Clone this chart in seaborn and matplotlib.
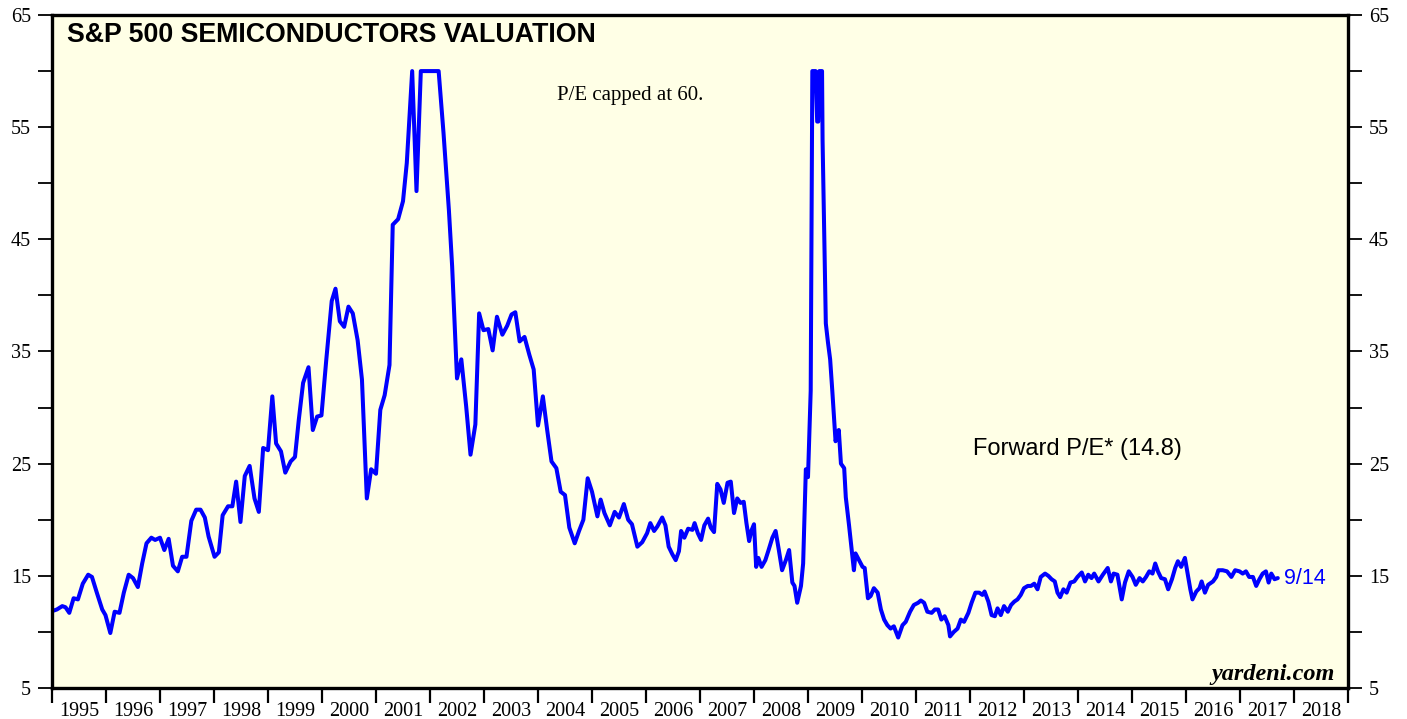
import matplotlib
matplotlib.use("Agg")
import matplotlib.pyplot as plt
import seaborn as sns
import pandas as pd
import numpy as np

# ---- data (decimal year, forward P/E, capped at 60) ----
years = [
    1995.03, 1995.09, 1995.19, 1995.25, 1995.32, 1995.40, 1995.48, 1995.57, 1995.67, 1995.74,
    1995.83, 1995.93, 1995.99, 1996.08, 1996.16, 1996.25, 1996.33, 1996.42, 1996.50, 1996.59,
    1996.67, 1996.75, 1996.84, 1996.91, 1997.00, 1997.08, 1997.16, 1997.24, 1997.33, 1997.41,
    1997.49, 1997.58, 1997.67, 1997.75, 1997.83, 1997.90, 1998.01, 1998.09, 1998.16, 1998.26,
    1998.34, 1998.41, 1998.49, 1998.57, 1998.66, 1998.75, 1998.83, 1998.91, 1999.00, 1999.08,
    1999.15, 1999.24, 1999.32, 1999.42, 1999.50, 1999.57, 1999.65, 1999.75, 1999.83, 1999.91,
    1999.99, 2000.08, 2000.18, 2000.25, 2000.33, 2000.41, 2000.49, 2000.57, 2000.66, 2000.74,
    2000.83, 2000.91, 2001.00, 2001.08, 2001.16, 2001.25, 2001.31, 2001.41, 2001.50, 2001.57,
    2001.67, 2001.75, 2001.83, 2002.16, 2002.25, 2002.35, 2002.41, 2002.50, 2002.58, 2002.67,
    2002.75, 2002.84, 2002.91, 2002.99, 2003.08, 2003.16, 2003.24, 2003.34, 2003.43, 2003.51,
    2003.58, 2003.66, 2003.75, 2003.84, 2003.92, 2004.00, 2004.09, 2004.17, 2004.25, 2004.34,
    2004.42, 2004.50, 2004.58, 2004.68, 2004.76, 2004.84, 2004.92, 2005.00, 2005.10, 2005.16,
    2005.23, 2005.33, 2005.42, 2005.50, 2005.59, 2005.67, 2005.74, 2005.84, 2005.93, 2006.02,
    2006.08, 2006.15, 2006.21, 2006.30, 2006.36, 2006.42, 2006.49, 2006.55, 2006.61, 2006.65,
    2006.71, 2006.78, 2006.86, 2006.90, 2006.96, 2007.02, 2007.08, 2007.15, 2007.20, 2007.26,
    2007.32, 2007.38, 2007.44, 2007.51, 2007.57, 2007.63, 2007.69, 2007.75, 2007.81, 2007.86,
    2007.91, 2007.95, 2008.00, 2008.04, 2008.08, 2008.14, 2008.21, 2008.27, 2008.34, 2008.40,
    2008.46, 2008.52, 2008.59, 2008.65, 2008.71, 2008.75, 2008.80, 2008.87, 2008.91, 2008.96,
    2009.00, 2009.05, 2009.08, 2009.14, 2009.17, 2009.19, 2009.21, 2009.26, 2009.27, 2009.33,
    2009.37, 2009.41, 2009.45, 2009.51, 2009.57, 2009.61, 2009.67, 2009.70, 2009.76, 2009.85,
    2009.88, 2010.01, 2010.05, 2010.11, 2010.16, 2010.22, 2010.29, 2010.35, 2010.41, 2010.47,
    2010.53, 2010.59, 2010.67, 2010.75, 2010.81, 2010.89, 2010.96, 2011.04, 2011.09, 2011.15,
    2011.21, 2011.29, 2011.35, 2011.41, 2011.47, 2011.53, 2011.60, 2011.63, 2011.70, 2011.77,
    2011.83, 2011.89, 2011.97, 2012.03, 2012.10, 2012.17, 2012.23, 2012.27, 2012.34, 2012.40,
    2012.46, 2012.51, 2012.57, 2012.63, 2012.70, 2012.76, 2012.82, 2012.88, 2012.94, 2013.00,
    2013.07, 2013.13, 2013.19, 2013.25, 2013.31, 2013.39, 2013.45, 2013.51, 2013.57, 2013.62,
    2013.67, 2013.73, 2013.79, 2013.86, 2013.93, 2013.99, 2014.07, 2014.13, 2014.19, 2014.25,
    2014.30, 2014.38, 2014.46, 2014.55, 2014.61, 2014.66, 2014.73, 2014.81, 2014.87, 2014.94,
    2015.01, 2015.07, 2015.14, 2015.20, 2015.26, 2015.32, 2015.38, 2015.43, 2015.48, 2015.54,
    2015.61, 2015.67, 2015.74, 2015.80, 2015.85, 2015.91, 2015.98, 2016.03, 2016.08, 2016.12,
    2016.19, 2016.25, 2016.29, 2016.35, 2016.41, 2016.50, 2016.56, 2016.60, 2016.68, 2016.76,
    2016.84, 2016.91, 2016.99, 2017.05, 2017.11, 2017.17, 2017.24, 2017.30, 2017.36, 2017.42,
    2017.48, 2017.53, 2017.58, 2017.64, 2017.70,
]
pe = [
    11.9, 12.0, 12.3, 12.2, 11.7, 13.0, 12.9, 14.3, 15.1, 14.9,
    13.5, 12.0, 11.5, 9.9, 11.8, 11.7, 13.5, 15.1, 14.8, 14.0,
    16.1, 17.9, 18.4, 18.2, 18.4, 17.3, 18.3, 15.9, 15.4, 16.7,
    16.7, 19.9, 20.9, 20.9, 20.2, 18.5, 16.7, 17.1, 20.4, 21.2,
    21.2, 23.4, 19.8, 23.9, 24.8, 21.9, 20.7, 26.4, 26.2, 31.0,
    26.8, 26.1, 24.2, 25.2, 25.6, 28.9, 32.2, 33.6, 28.0, 29.2,
    29.3, 34.3, 39.5, 40.6, 37.7, 37.2, 39.0, 38.4, 36.0, 32.5,
    21.9, 24.5, 24.1, 29.8, 31.1, 33.8, 46.3, 46.8, 48.4, 51.8,
    60.0, 49.3, 60.0, 60.0, 54.5, 47.6, 42.6, 32.6, 34.3, 30.1,
    25.8, 28.5, 38.4, 36.9, 37.0, 35.1, 38.1, 36.5, 37.3, 38.3,
    38.5, 35.9, 36.3, 34.7, 33.4, 28.4, 31.0, 28.0, 25.2, 24.6,
    22.5, 22.2, 19.3, 17.9, 19.0, 20.0, 23.7, 22.5, 20.3, 21.8,
    20.6, 19.5, 20.7, 20.2, 21.4, 20.0, 19.6, 17.6, 18.0, 18.8,
    19.7, 19.0, 19.4, 20.2, 19.5, 17.6, 16.9, 16.4, 17.2, 19.0,
    18.4, 19.2, 19.1, 19.7, 18.8, 18.2, 19.5, 20.1, 19.3, 18.9,
    23.2, 22.7, 21.5, 23.3, 23.4, 20.6, 21.9, 21.5, 21.6, 19.7,
    18.1, 19.0, 19.6, 15.8, 16.6, 15.8, 16.4, 17.3, 18.4, 19.0,
    17.3, 15.5, 16.4, 17.3, 14.4, 14.1, 12.6, 14.1, 16.1, 24.5,
    23.8, 31.5, 60.0, 60.0, 55.5, 55.5, 60.0, 60.0, 53.8, 37.5,
    35.8, 34.3, 31.5, 27.0, 28.0, 25.0, 24.6, 22.0, 19.5, 15.5,
    17.0, 15.8, 15.7, 13.0, 13.2, 13.9, 13.5, 12.0, 11.1, 10.6,
    10.3, 10.5, 9.5, 10.6, 10.9, 11.8, 12.4, 12.6, 12.8, 12.6,
    11.8, 11.7, 12.0, 12.0, 11.1, 11.4, 10.6, 9.6, 10.0, 10.3,
    11.1, 10.9, 11.7, 12.6, 13.5, 13.5, 13.3, 13.6, 12.7, 11.5,
    11.4, 12.1, 11.5, 12.3, 11.8, 12.4, 12.7, 12.9, 13.3, 13.9,
    14.1, 14.1, 14.3, 13.8, 14.9, 15.2, 15.0, 14.7, 14.5, 13.5,
    13.1, 13.8, 13.5, 14.4, 14.5, 14.9, 15.3, 14.5, 15.1, 14.8,
    15.2, 14.5, 15.1, 15.7, 14.5, 15.2, 15.1, 12.9, 14.4, 15.4,
    14.9, 14.2, 14.8, 14.5, 14.9, 15.4, 15.2, 16.1, 15.4, 14.8,
    14.7, 13.8, 14.7, 15.7, 16.3, 15.8, 16.6, 15.2, 13.8, 12.9,
    13.6, 13.9, 14.5, 13.5, 14.2, 14.5, 14.9, 15.5, 15.5, 15.4,
    14.9, 15.5, 15.4, 15.2, 15.4, 14.9, 14.9, 14.1, 14.7, 15.2,
    15.4, 14.4, 15.2, 14.7, 14.8,
]
year_labels = [str(y) for y in range(1995, 2019)]
yticks_major = [5, 15, 25, 35, 45, 55, 65]
yticks_minor = [10, 20, 30, 40, 50, 60]

title_text = "S&P 500 SEMICONDUCTORS VALUATION"
cap_note = "P/E capped at 60."
series_label = "Forward P/E* (14.8)"
last_date = "9/14"
source = "yardeni.com"

df = pd.DataFrame({"year": years, "pe": pe})

sns.set_theme(style="ticks")
plt.rcParams["font.family"] = ["Liberation Serif", "DejaVu Serif"]
plt.rcParams["text.color"] = "black"
plt.rcParams["xtick.color"] = "black"
plt.rcParams["ytick.color"] = "black"
plt.rcParams["xtick.labelcolor"] = "black"
plt.rcParams["ytick.labelcolor"] = "black"

fig = plt.figure(figsize=(14.07, 7.19), dpi=100)
fig.patch.set_facecolor("white")
ax = fig.add_axes([52/1407, 1 - 688/719, 1296/1407, 673/719])
ax.set_facecolor("#FFFFE6")

sns.lineplot(data=df, x="year", y="pe", ax=ax, color="#0000FF", linewidth=2.9,
             sort=False, estimator=None)

ax.set_xlim(1995, 2019)
ax.set_ylim(5, 65)
ax.set_xlabel("")
ax.set_ylabel("")

# x: year-boundary ticks without labels, labels centred on each year
ax.set_xticks(list(range(1995, 2020)))
ax.set_xticklabels([])
ax.set_xticks([y + 0.5 for y in range(1995, 2019)], minor=True)
ax.set_xticklabels(year_labels, minor=True)
ax.tick_params(axis="x", which="major", direction="out", length=11, width=1.6, color="black")
ax.tick_params(axis="x", which="minor", length=0, pad=10, labelsize=14.5, labelcolor="black")

ax.set_yticks(yticks_major)
ax.set_yticks(yticks_minor, minor=True)
ax.tick_params(axis="y", which="both", direction="out", length=10, width=1.3,
               left=True, right=True, labelleft=True, labelright=True, color="black",
               labelsize=14.5, pad=5, labelcolor="black")
ax.tick_params(axis="y", which="minor", labelleft=False, labelright=False)

for s in ax.spines.values():
    s.set_visible(True)
    s.set_color("black")
    s.set_linewidth(2.4)

ax.text(0.0116, 0.970, title_text, transform=ax.transAxes, ha="left", va="center",
        fontsize=19.3, fontweight="bold", color="black",
        family=["Liberation Sans", "DejaVu Sans"])
ax.text(0.446, 0.880, cap_note, transform=ax.transAxes, ha="center", va="center",
        fontsize=15, color="black", family=["Liberation Serif", "DejaVu Serif"])
ax.text(0.7106, 0.355, series_label, transform=ax.transAxes, ha="left", va="center",
        fontsize=17, color="black", family=["Liberation Sans", "DejaVu Sans"])
ax.text(0.9506, 0.163, last_date, transform=ax.transAxes, ha="left", va="center",
        fontsize=15.5, color="#0000FF", family=["Liberation Sans", "DejaVu Sans"])
ax.text(0.990, 0.012, source, transform=ax.transAxes, ha="right", va="baseline",
        fontsize=17.5, fontweight="bold", style="italic", color="black",
        family=["Liberation Serif", "DejaVu Serif"])

fig.savefig("out.png", dpi=100)
